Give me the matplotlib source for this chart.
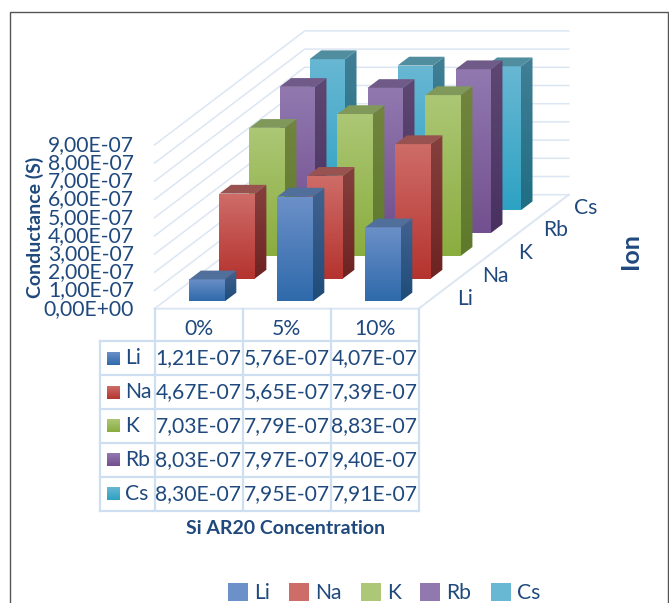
import matplotlib
matplotlib.use("Agg")
from matplotlib import pyplot as plt
from matplotlib.colors import LinearSegmentedColormap
from matplotlib.patches import Patch, Polygon, Rectangle
import numpy as np

plt.rcParams["font.family"] = ["Lato", "DejaVu Sans"]

concentrations = ["0%", "5%", "10%"]
ions = ["Li", "Na", "K", "Rb", "Cs"]
li = [1.21e-07, 5.76e-07, 4.07e-07]
na = [4.67e-07, 5.65e-07, 7.39e-07]
k = [7.03e-07, 7.79e-07, 8.83e-07]
rb = [8.03e-07, 7.97e-07, 9.40e-07]
cs = [8.30e-07, 7.95e-07, 7.91e-07]
series = [li, na, k, rb, cs]
y_ticks = [0, 1e-07, 2e-07, 3e-07, 4e-07, 5e-07, 6e-07, 7e-07, 8e-07, 9e-07]
y_max = 9e-07

# front top, front bottom, side top, side bottom, lid
colors = {
    "Li": ["#6C90C8", "#2F6AAB", "#42628F", "#1F4C7A", "#506F9A"],
    "Na": ["#CE6C68", "#B5342F", "#85403E", "#6E2321", "#985250"],
    "K": ["#ACC775", "#8AAD3F", "#72843F", "#5E7A2C", "#80995A"],
    "Rb": ["#9179B0", "#73508F", "#5E4872", "#483160", "#705A88"],
    "Cs": ["#68B7D3", "#2EA2C3", "#417F95", "#1F6E84", "#4F8D9F"],
}
TEXT = "#1F497D"
GRID = "#DCE6F2"
TABLE = "#CFDFF2"

X0, Y0 = 154.5, 308.7
CAT_W = 88.0
ROW_DX, ROW_DY = 30.05, 22.8
PX_PER_UNIT = 18.2 / 1e-07
BAR_START, BAR_W = 0.287, 0.402
DEPTH_START, DEPTH = 0.32, 0.385
FONT = 15.2


def project(cat, row, val):
    return (X0 + cat * CAT_W + row * ROW_DX, Y0 - row * ROW_DY - val * PX_PER_UNIT)


def gradient_face(ax, verts, top, bottom, z):
    xs = [v[0] for v in verts]
    ys = [v[1] for v in verts]
    cmap = LinearSegmentedColormap.from_list("face", [top, bottom])
    img = ax.imshow(np.linspace(0, 1, 64).reshape(-1, 1), cmap=cmap, aspect="auto",
                    extent=(min(xs), max(xs), max(ys), min(ys)), zorder=z)
    img.set_clip_path(Polygon(verts, closed=True, transform=ax.transData))


def draw_bar(ax, cat, row, val, cols, z):
    val = min(val, y_max)  # the axis stops at 9E-07, taller bars are cut off
    x1, x2 = cat + BAR_START, cat + BAR_START + BAR_W
    r1, r2 = row + DEPTH_START, row + DEPTH_START + DEPTH
    front = [project(x1, r1, val), project(x2, r1, val), project(x2, r1, 0), project(x1, r1, 0)]
    side = [project(x2, r1, val), project(x2, r2, val), project(x2, r2, 0), project(x2, r1, 0)]
    lid = [project(x1, r1, val), project(x1, r2, val), project(x2, r2, val), project(x2, r1, val)]
    gradient_face(ax, front, cols[0], cols[1], z)
    gradient_face(ax, side, cols[2], cols[3], z)
    ax.add_patch(Polygon(lid, closed=True, facecolor=cols[4], edgecolor="none", zorder=z))


fig = plt.figure(figsize=(6.69, 6.03), dpi=100)
ax = fig.add_axes([0, 0, 1, 1])

# outer frame
ax.add_patch(Rectangle((10.3, 12), 657.4, 640, fill=False, edgecolor="#555555", lw=1.0, zorder=1))

# walls and floor of the 3d box
n_cat, n_row = len(concentrations), len(ions)
for tick in y_ticks:
    ax.plot(*zip(project(0, 0, tick), project(0, n_row, tick), project(n_cat, n_row, tick)),
            color=GRID, lw=1.1, zorder=2)
ax.plot(*zip(project(0, 0, 0), project(n_cat, 0, 0), project(n_cat, n_row, 0)),
        color=GRID, lw=1.4, zorder=2)

z = 3
for row in range(n_row - 1, -1, -1):
    for cat in range(n_cat):
        draw_bar(ax, cat, row, series[row][cat], colors[ions[row]], z)
        z += 1

# y axis labels
for tick in y_ticks:
    label = f"{tick:.2E}".replace(".", ",")
    ax.text(134, project(0, 0, tick)[1], label, color=TEXT, fontsize=FONT,
            ha="right", va="center", zorder=50)
ax.text(35, 227, "Conductance (S)", color=TEXT, fontsize=14, fontweight="bold",
        rotation=90, ha="center", va="center", zorder=50)
ax.text(630, 251, "Ion", color=TEXT, fontsize=18, fontweight="bold",
        rotation=90, ha="center", va="center", zorder=50)

# ion labels beside the floor
for row, ion in enumerate(ions):
    x, y = project(n_cat, row + 0.5, 0)
    ax.text(x + 31.5, y + 1.5, ion, color=TEXT, fontsize=FONT, ha="center", va="center", zorder=50)

# data table under the chart
HEAD_H = 32.5
ROW_H = 33.9
TABLE_LEFT = 100
tbl_top = Y0
rows_top = tbl_top + HEAD_H
rows_bottom = rows_top + n_row * ROW_H
for cat in range(n_cat + 1):
    xc = X0 + cat * CAT_W
    ax.plot([xc, xc], [tbl_top, rows_bottom], color=TABLE, lw=1.6, zorder=2)
ax.plot([TABLE_LEFT, TABLE_LEFT], [rows_top, rows_bottom], color=TABLE, lw=1.6, zorder=2)
for row in range(n_row + 1):
    yr = rows_top + row * ROW_H
    ax.plot([TABLE_LEFT, X0 + n_cat * CAT_W], [yr, yr], color=TABLE, lw=1.6, zorder=2)
for cat, name in enumerate(concentrations):
    ax.text(X0 + (cat + 0.5) * CAT_W, tbl_top + 20, name, color=TEXT, fontsize=FONT,
            ha="center", va="center", zorder=50)
for row, ion in enumerate(ions):
    yc = rows_top + (row + 0.5) * ROW_H
    gradient_face(ax, [(107, yc - 6.5), (120, yc - 6.5), (120, yc + 6.5), (107, yc + 6.5)],
                  colors[ion][0], colors[ion][1], 50)
    ax.text(125, yc, ion, color=TEXT, fontsize=FONT, ha="left", va="center", zorder=50)
    for cat in range(n_cat):
        label = f"{series[row][cat]:.2E}".replace(".", ",")
        ax.text(X0 + (cat + 0.5) * CAT_W, yc, label, color=TEXT, fontsize=FONT,
                ha="center", va="center", zorder=50)
ax.text(286, 528, "Si AR20 Concentration", color=TEXT, fontsize=14, fontweight="bold",
        ha="center", va="center", zorder=50)

handles = [Patch(facecolor=colors[ion][0], edgecolor="none", label=ion) for ion in ions]
ax.legend(handles=handles, ncol=n_row, frameon=False, fontsize=FONT, loc="center",
          bbox_to_anchor=(384 / 669, 1 - 593 / 603), handlelength=0.95, handleheight=0.95,
          handletextpad=0.3, columnspacing=0.9, labelcolor=TEXT, borderpad=0)

ax.set_xlim(0, 669)
ax.set_ylim(603, 0)
ax.axis("off")
fig.savefig("out.png", dpi=100)
